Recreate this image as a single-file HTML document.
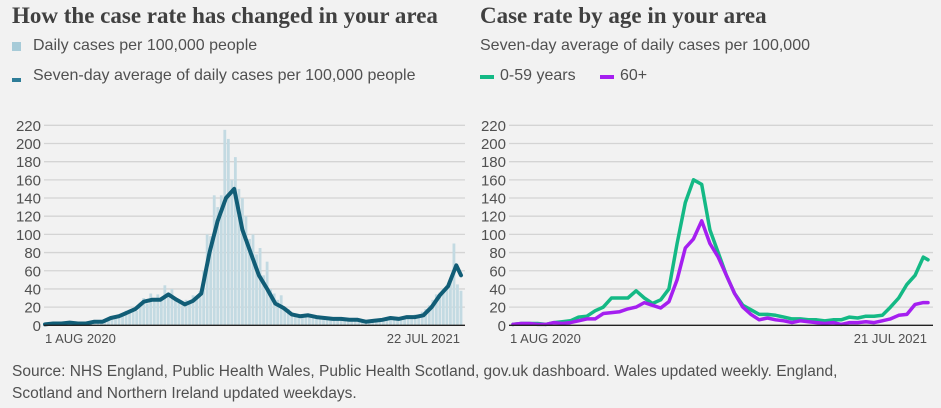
<!DOCTYPE html>
<html><head><meta charset="utf-8"><style>
body{margin:0;background:#f2f2f2;width:941px;height:408px;overflow:hidden;font-family:"Liberation Sans",sans-serif;}
.t{position:absolute;font-family:"Liberation Serif",serif;font-weight:bold;font-size:23px;color:#404040;white-space:nowrap;}
.l{position:absolute;font-size:16px;color:#505050;white-space:nowrap;}
.sw{position:absolute;}
svg{position:absolute;left:0;top:0;}
</style></head><body>
<div class="t" style="left:12px;top:3px">How the case rate has changed in your area</div>
<div class="sw" style="left:12px;top:42px;width:9px;height:9px;background:#a7cbd8"></div>
<div class="l" style="left:33px;top:37px">Daily cases per 100,000 people</div>
<div class="sw" style="left:12px;top:78px;width:9px;height:4px;background:#2e7d98"></div>
<div class="l" style="left:33px;top:67px">Seven-day average of daily cases per 100,000 people</div>
<div class="t" style="left:480px;top:3px">Case rate by age in your area</div>
<div class="l" style="left:480px;top:37px">Seven-day average of daily cases per 100,000</div>
<div class="sw" style="left:480px;top:75px;width:14px;height:4px;background:#14b985"></div>
<div class="l" style="left:500px;top:67px">0-59 years</div>
<div class="sw" style="left:600px;top:75px;width:14px;height:4px;background:#a51ff0"></div>
<div class="l" style="left:620px;top:67px">60+</div>
<div class="l" style="left:12px;top:361px;line-height:22px;white-space:normal;width:885px;font-size:15.5px">Source: NHS England, Public Health Wales, Public Health Scotland, gov.uk dashboard. Wales updated weekly. England, Scotland and Northern Ireland updated weekdays.</div>
<svg id="svg" width="941" height="408"></svg>
<script>
const ticks=[0,20,40,60,80,100,120,140,160,180,200,220];
const avgLeft=[1,2,2,3,2,2,4,4,8,10,14,18,26,28,28,34,28,23,27,35,80,115,140,150,105,80,55,40,24,19,12,10,11,9,8,7,7,6,6,4,5,6,8,7,9,9,11,20,33,43,66,55];
const young=[1,2,2,2,1,3,4,5,9,10,16,20,30,30,30,38,30,24,28,40,90,135,160,155,105,80,55,35,22,17,12,12,11,9,7,7,6,6,5,6,6,9,8,10,10,11,20,30,45,55,75,72];
const old=[1,2,2,1,1,3,2,3,5,7,7,13,14,15,18,20,25,22,19,26,50,85,95,115,90,75,55,35,20,12,6,8,6,5,3,5,4,3,2,3,1,3,3,4,3,5,7,11,12,23,25,25];
const daily=[1,1,2,2,3,2,3,2,4,2,2,3,2,3,5,4,6,4,
7,9,8,12,10,16,14,18,16,25,30,24,35,28,34,30,
44,32,40,30,25,22,28,24,33,30,38,
60,100,98,143,130,143,215,205,160,185,150,140,120,95,100,78,85,55,70,40,
35,28,33,20,18,14,12,11,10,13,12,10,9,
9,8,8,7,8,7,6,7,6,6,5,6,5,4,5,5,6,7,6,8,9,8,7,9,10,11,10,12,11,15,
18,22,28,34,36,40,44,52,90,45,38];
const xLabelsL=["1 AUG 2020","22 JUL 2021"];
const xLabelsR=["1 AUG 2020","21 JUL 2021"];
const NS="http://www.w3.org/2000/svg",svg=document.getElementById('svg');
const y0=325.3,y1=125.3;
function Y(v){return y0-(v/220)*(y0-y1);}
function mk(tag,at){const e=document.createElementNS(NS,tag);for(const k in at)e.setAttribute(k,at[k]);svg.appendChild(e);return e;}
function chart(gx0,gx1,dx0,dx1,labs,side){
 const X=d=>dx0+d/354*(dx1-dx0);
 ticks.forEach(t=>{
  if(t>0){const g=mk('line',{x1:gx0,x2:gx1,y1:Y(t),y2:Y(t),stroke:'#d4d4d4','stroke-width':1.3});
  
  }
  const tx=mk('text',{x:gx0-3,y:Y(t)+5.5,'text-anchor':'end','font-size':15,fill:'#505050','font-family':'Liberation Sans'});
  tx.textContent=t;
  
  
 });
 labs.forEach((s,i)=>{const tx=mk('text',{x:i?dx1-1:gx0+1,y:343,'text-anchor':i?'end':'start','font-size':13,fill:'#505050','font-family':'Liberation Sans'});
  tx.textContent=s;
  
  });
 return X;
}
function line(arr,X,col,w,name){
 const pts=arr.map((v,i)=>X(i<arr.length-1?i*7:354).toFixed(1)+','+Y(v).toFixed(1)).join(' ');
 const p=mk('polyline',{points:pts,fill:'none',stroke:col,'stroke-width':w,'stroke-linejoin':'round','stroke-linecap':'round'});
 
 
}
const XL=chart(44,465,45,461,xLabelsL,'left');
const step=354/(daily.length-1);
daily.forEach((v,i)=>{const b=mk('rect',{x:XL(i*step)-1.4,y:Y(v),width:2.8,height:y0-Y(v),fill:'#c3dae2'});
 
 });
line(avgLeft,XL,'#115d76',4,'seven-day-average-line');
mk('line',{x1:44,x2:465,y1:y0,y2:y0,stroke:'#222','stroke-width':1.3});
const XR=chart(509,933,513,928,xLabelsR,'right');
line(young,XR,'#14b985',3.5,'young-line');
line(old,XR,'#a51ff0',3.5,'old-line');
mk('line',{x1:509,x2:933,y1:y0,y2:y0,stroke:'#222','stroke-width':1.3});
</script>
</body></html>
